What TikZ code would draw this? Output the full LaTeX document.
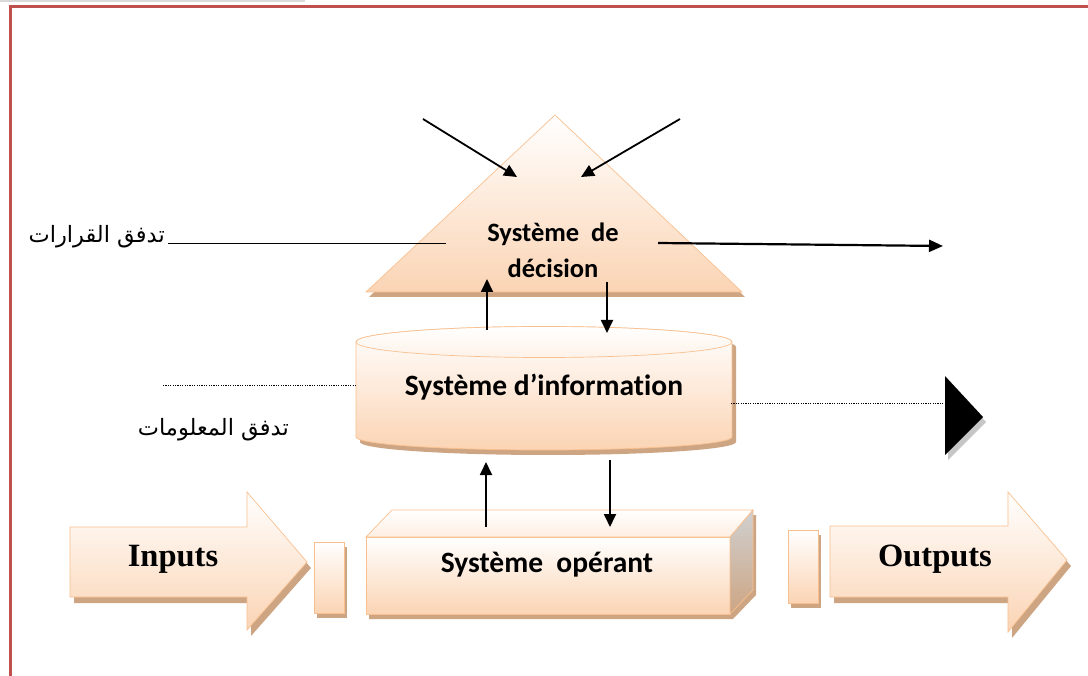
\documentclass[tikz,border=0pt]{standalone}
\usepackage{fontspec}
\usetikzlibrary{arrows.meta}
\TeXXeTstate=1
\newfontfamily\arabicfont[Script=Arabic]{DejaVu Sans}
\newfontfamily\sysfont[Ligatures=NoCommon]{Carlito}
\newfontfamily\ioserif{Liberation Serif}

\definecolor{peach}{HTML}{FBD4B4}
\definecolor{peachline}{HTML}{F9C08F}
\definecolor{shadowtan}{HTML}{CDA583}
\definecolor{framered}{HTML}{C0504D}
\definecolor{sidegray}{HTML}{D0D0D0}

\begin{document}
\begin{tikzpicture}[x=1pt,y=-1pt,
  solid3d/.style={draw=peachline, line width=0.7pt, top color=white, bottom color=peach},
  shadowfill/.style={fill=shadowtan},
  arr/.style={line width=1.8pt, -{Triangle[length=13pt,width=12pt]}},
  flowdot/.style={line width=0.7pt, dash pattern=on 1.2pt off 1.2pt},
  boldlabel/.style={inner sep=0pt, font=\sysfont\bfseries},
  arlabel/.style={inner sep=0pt, font=\arabicfont\fontsize{22.5}{26}\selectfont}]

\useasboundingbox (0,0) rectangle (1088,676);
\fill[white] (0,0) rectangle (1088,676);

% page frame
\draw[line width=2pt, gray!30] (0,1) -- (305,1);
\draw[framered, line width=3pt] (10,676) -- (10,6.5) -- (1088,6.5);

% ---------- Inputs arrow and gate ----------
\fill[shadowfill, shift={(4,6)}] (70,527) -- (247,527) -- (247,492) -- (307,562)
  -- (247,630) -- (247,597) -- (70,597) -- cycle;
\path[solid3d] (70,527) -- (247,527) -- (247,492) -- (307,562)
  -- (247,630) -- (247,597) -- (70,597) -- cycle;
\node[inner sep=0pt, font=\ioserif\bfseries\fontsize{32.5}{34}\selectfont] (inputs) at (173,559) {Inputs};

\fill[shadowfill, shift={(3,5)}] (314,542) rectangle (344,613);
\path[solid3d] (314,542) rectangle (344,613);

% ---------- Outputs gate and arrow ----------
\fill[shadowfill, shift={(3,5)}] (788,530) rectangle (818,603);
\path[solid3d] (788,530) rectangle (818,603);

\fill[shadowfill, shift={(4,6)}] (830,526) -- (1008,526) -- (1008,492) -- (1067,560)
  -- (1008,632) -- (1008,597) -- (830,597) -- cycle;
\path[solid3d] (830,526) -- (1008,526) -- (1008,492) -- (1067,560)
  -- (1008,632) -- (1008,597) -- (830,597) -- cycle;
\node[inner sep=0pt, font=\ioserif\bfseries\fontsize{32.5}{34}\selectfont] (outputs) at (935,559) {Outputs};

% ---------- Système opérant (box) ----------
\fill[shadowfill, shift={(3,5)}] (366,537) -- (392,510) -- (753,510) -- (753,590)
  -- (730,614) -- (366,614) -- cycle;
\path[solid3d] (366,537) rectangle (730,614);
\path[draw=peachline, line width=0.7pt, top color=white, bottom color=peach!40]
  (366,537) -- (392,510) -- (753,510) -- (730,537) -- cycle;
\path[draw=peachline, line width=0.7pt, top color=sidegray, bottom color=shadowtan]
  (730,537) -- (753,510) -- (753,590) -- (730,614) -- cycle;
\node[boldlabel, font=\sysfont\bfseries\fontsize{29.5}{32}\selectfont] (operant) at (547,565) {Système~~opérant};

% ---------- Système d'information (cylinder) ----------
\fill[shadowfill, shift={(4,5)}] (356,342) -- (356,437)
  arc[start angle=180, end angle=360, x radius=188pt, y radius=13pt]
  -- (732,342) arc[start angle=0, end angle=180, x radius=188pt, y radius=15.5pt] -- cycle;
\path[solid3d] (356,342) -- (356,437)
  arc[start angle=180, end angle=360, x radius=188pt, y radius=13pt]
  -- (732,342) arc[start angle=0, end angle=180, x radius=188pt, y radius=15.5pt] -- cycle;
\path[draw=peachline, line width=0.7pt, top color=white, bottom color=peach!30]
  (544,342) ellipse [x radius=188pt, y radius=15.5pt];
\node[boldlabel, font=\sysfont\bfseries\fontsize{29.5}{32}\selectfont] (info) at (544,387) {Système d’information};

% ---------- Système de décision (triangle) ----------
\fill[shadowfill, shift={(3,5)}] (366,292) -- (555,115) -- (742,292) -- cycle;
\path[solid3d] (366,292) -- (555,115) -- (742,292) -- cycle;
\node[boldlabel, align=center, font=\sysfont\bfseries\fontsize{26.5}{36}\selectfont] (decision) at (553,250) {Système~~de\\décision};

% ---------- flow labels ----------
\node[arlabel, anchor=base east] (qarar) at (165,243) {\beginR تدفق القرارات\endR};
\node[arlabel, anchor=base east] (maalumat) at (289,436) {\beginR تدفق المعلومات\endR};

% ---------- connector end points ----------
\coordinate (inL1) at (423,119);  \coordinate (inL2) at (517,177);
\coordinate (inR1) at (680,119);  \coordinate (inR2) at (581,177);
\coordinate (decA) at (168,243);  \coordinate (decB) at (446,243);
\coordinate (outA) at (658,243);  \coordinate (outB) at (943,246);
\coordinate (up1a) at (487,330);  \coordinate (up1b) at (487,279);
\coordinate (dn1a) at (607,282);  \coordinate (dn1b) at (607,333);
\coordinate (up2a) at (486,527);  \coordinate (up2b) at (486,462);
\coordinate (dn2a) at (610,460);  \coordinate (dn2b) at (610,527);
\coordinate (infL1) at (163,385); \coordinate (infL2) at (357,385);
\coordinate (infR1) at (731,403); \coordinate (infR2) at (945,403);

% ---------- connectors ----------
\draw[arr] (inL1) -- (inL2);
\draw[arr] (inR1) -- (inR2);
\draw[line width=0.8pt] (decA) -- (decB);
\draw[line width=2.2pt, -{Triangle[length=14pt,width=12pt]}] (outA) -- (outB);
\draw[arr] (up1a) -- (up1b);
\draw[arr] (dn1a) -- (dn1b);
\draw[arr] (up2a) -- (up2b);
\draw[arr] (dn2a) -- (dn2b);
\draw[flowdot] (infL1) -- (infL2);
\draw[flowdot] (infR1) -- (infR2);

% black output marker
\fill[gray!45, shift={(3,5)}] (945,376) -- (983,417) -- (945,455) -- cycle;
\fill[black] (945,376) -- (983,417) -- (945,455) -- cycle;

\end{tikzpicture}
\end{document}
